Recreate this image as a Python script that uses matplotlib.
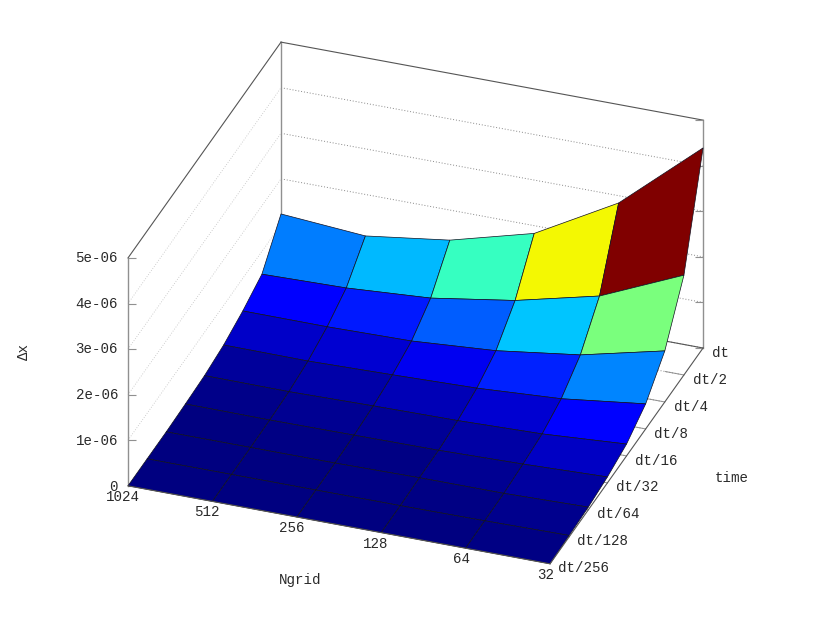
import numpy as np
import matplotlib
matplotlib.use('Agg')
import matplotlib.pyplot as plt

# etiquetas de los ejes
ngrid_labels = ['1024', '512', '256', '128', '64', '32']
time_labels = ['dt/256', 'dt/128', 'dt/64', 'dt/32', 'dt/16', 'dt/8', 'dt/4', 'dt/2', 'dt']
z_labels = ['0', '1e-06', '2e-06', '3e-06', '4e-06', '5e-06']
z_ticks = [0, 1e-6, 2e-6, 3e-6, 4e-6, 5e-6]

# error por columna de Ngrid, de dt/256 a dt
dx_1024 = [0.00, 0.00, 0.00, 0.02, 0.05, 0.13, 0.285, 0.50, 1.23]
dx_512 = [0.00, 0.00, 0.00, 0.01, 0.04, 0.12, 0.28, 0.54, 1.09]
dx_256 = [0.00, 0.00, 0.00, 0.02, 0.07, 0.16, 0.31, 0.66, 1.34]
dx_128 = [0.00, 0.00, 0.02, 0.03, 0.09, 0.21, 0.44, 0.95, 1.83]
dx_64 = [0.00, 0.01, 0.02, 0.07, 0.14, 0.32, 0.69, 1.39, 2.84]
dx_32 = [0.00, 0.03, 0.06, 0.13, 0.26, 0.55, 1.12, 2.19, 4.39]

W, H = 830, 623
mono = 'Liberation Mono'
txt = '#2a2a2a'
borde = '#555555'
gris = '#909090'

Z = np.array([dx_1024, dx_512, dx_256, dx_128, dx_64, dx_32]).T * 1e-6
xs = np.arange(len(ngrid_labels))
ys = np.arange(len(time_labels))
X, Y = np.meshgrid(xs, ys)
x0, x1 = xs[0], xs[-1]
y0, y1 = ys[0], ys[-1]
z0, z1 = z_ticks[0], z_ticks[-1]

fig = plt.figure(figsize=(W / 100, H / 100), dpi=100)
side = 668.2
ax = fig.add_axes([72.4 / W, -23.1 / H, side / W, side / H], projection='3d',
                  proj_type='ortho', computed_zorder=False)
ax.view_init(elev=30.7, azim=-70.1)
ax.set_box_aspect((448.8, 449.5, 265))
ax.set_xlim(x0, x1, view_margin=0)
ax.set_ylim(y0, y1, view_margin=0)
ax.set_zlim(z0, z1, view_margin=0)
ax.set_axis_off()

# rejilla de las paredes y del suelo
for z in z_ticks[:-1]:
    ax.plot([x0, x0], [y0, y1], [z, z], ls=(0, (1, 2)), lw=0.6, color='#c0c0c0', zorder=1)
    ax.plot([x0, x1], [y1, y1], [z, z], ls=(0, (1, 2)), lw=0.7, color='#888888', zorder=1)
for y in ys[1:-1]:
    ax.plot([x0, x1], [y, y], [z0, z0], ls=(0, (1, 2)), lw=0.7, color='#888888', zorder=1)
    ax.plot([x1 - 0.22, x1], [y, y], [z0, z0], lw=0.7, color=gris, zorder=1)

# caja
ax.plot([x0, x0], [y1, y1], [z0, z1], lw=1, color=gris, zorder=1)
ax.plot([x1, x1], [y1, y1], [z0, z1], lw=1, color=gris, zorder=1)
ax.plot([x0, x0], [y0, y0], [z0, z1], lw=1, color=gris, zorder=1)
ax.plot([x0, x0], [y0, y1], [z1, z1], lw=0.8, color=borde, zorder=1)
ax.plot([x0, x1], [y1, y1], [z1, z1], lw=0.8, color=borde, zorder=1)
ax.plot([x0, x1], [y1, y1], [z0, z0], lw=0.8, color=borde, zorder=1)

# marcas del eje z
ax.plot([x0] * 6, [y0] * 6, z_ticks, ls='none', marker=1, ms=6, mew=0.8, color=gris, zorder=1)
ax.plot([x1] * 6, [y1] * 6, z_ticks, ls='none', marker=0, ms=6, mew=0.8, color=gris, zorder=1)

# superficie, el color sale de la esquina del fondo a la derecha
surf = ax.plot_surface(X, Y, Z, rstride=1, cstride=1, cmap='jet', shade=False,
                       vmin=0, vmax=Z.max(), edgecolor='#101020', linewidth=0.5,
                       antialiased=True, zorder=2)
surf.set_array(Z[1:, 1:].ravel())
surf.set_clim(0, Z.max())

# bordes delanteros
ax.plot([x0, x1], [y0, y0], [z0, z0], lw=0.8, color=borde, zorder=3)
ax.plot([x1, x1], [y0, y1], [z0, z0], lw=0.8, color=borde, zorder=3)


def lab(x, y, s, ha='center', rot=0):
    fig.text(x / W, 1 - y / H, s, ha=ha, va='center', rotation=rot,
             family=mono, fontsize=10.2, color=txt)


z_y = [487, 441, 395, 349, 304, 258]
for s, y in zip(z_labels, z_y):
    lab(118, y, s, ha='right')

x_pos = [(122.7, 496.7), (207, 512), (292, 528), (376, 543.7), (461, 559), (545.7, 574.7)]
for s, (x, y) in zip(ngrid_labels, x_pos):
    lab(x, y, s)

t_pos = [(557.7, 567.7), (576.7, 541.3), (596.7, 514.3), (615.7, 487), (635, 460.7),
         (654, 434), (673.7, 407), (692.7, 380.3), (711.7, 353)]
for s, (x, y) in zip(time_labels, t_pos):
    lab(x, y, s, ha='left')

lab(300, 580, 'Ngrid')
lab(715, 478, 'time', ha='left')
lab(24, 351, '\u0394x', rot=90)

fig.savefig('out.png', dpi=100)
